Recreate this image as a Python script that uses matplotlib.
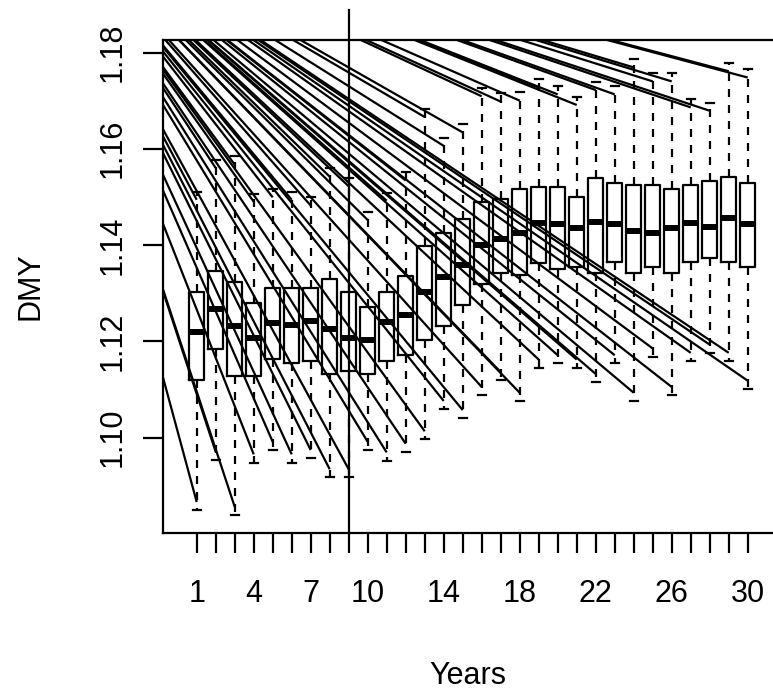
import numpy as np
import matplotlib.pyplot as plt

plt.rcParams['font.family'] = ['Liberation Sans', 'DejaVu Sans']

years = np.arange(1, 31)
shown_labels = [1, 4, 7, 10, 14, 18, 22, 26, 30]

# box statistics per year
q1 = [1.1119, 1.1184, 1.1128, 1.1128, 1.1163, 1.1154, 1.1158, 1.1132, 1.1138, 1.1132,
      1.1159, 1.1171, 1.1203, 1.1232, 1.1275, 1.1320, 1.1341, 1.1338, 1.1363, 1.1350,
      1.1355, 1.1342, 1.1364, 1.1341, 1.1355, 1.1341, 1.1364, 1.1372, 1.1364, 1.1355]
med = [1.1220, 1.1267, 1.1232, 1.1207, 1.1238, 1.1234, 1.1242, 1.1225, 1.1206, 1.1203,
       1.1241, 1.1255, 1.1303, 1.1334, 1.1358, 1.1399, 1.1412, 1.1426, 1.1446, 1.1443,
       1.1435, 1.1447, 1.1443, 1.1429, 1.1426, 1.1435, 1.1446, 1.1438, 1.1456, 1.1443]
q3 = [1.1302, 1.1346, 1.1324, 1.1280, 1.1311, 1.1311, 1.1311, 1.1329, 1.1302, 1.1272,
      1.1302, 1.1336, 1.1398, 1.1424, 1.1455, 1.1490, 1.1495, 1.1516, 1.1521, 1.1521,
      1.1499, 1.1539, 1.1529, 1.1525, 1.1525, 1.1516, 1.1525, 1.1533, 1.1541, 1.1528]
whis_lo = [1.0849, 1.0953, 1.0839, 1.0948, 1.0974, 1.0948, 1.0957, 1.0917, 1.0917, 1.0974,
           1.0952, 1.0970, 1.0996, 1.1059, 1.1040, 1.1088, 1.1119, 1.1076, 1.1145, 1.1154,
           1.1145, 1.1115, 1.1154, 1.1076, 1.1168, 1.1088, 1.1159, 1.1176, 1.1159, 1.1101]
whis_hi = [1.1511, 1.1577, 1.1584, 1.1507, 1.1516, 1.1511, 1.1499, 1.1559, 1.1539, 1.1469,
           1.1509, 1.1551, 1.1683, 1.1623, 1.1651, 1.1726, 1.1715, 1.1717, 1.1744, 1.1730,
           1.1708, 1.1739, 1.1730, 1.1786, 1.1757, 1.1757, 1.1703, 1.1696, 1.1778, 1.1765]

# the fan of straight lines all comes from one point up-left, outside the plot
fan_origin = (-7.77, 1.2146)
fan_gap = 0.0017
marker_year = 9

fig = plt.figure(figsize=(7.73, 6.93), dpi=100)
ax = fig.add_axes([163 / 773, 160 / 693, 610 / 773, 493 / 693])

stats = []
for i in range(len(years)):
    stats.append(dict(med=med[i], q1=q1[i], q3=q3[i],
                      whislo=whis_lo[i], whishi=whis_hi[i], fliers=[]))

lw = 1.6
ax.bxp(stats, positions=years, widths=0.8, capwidths=0.4, showfliers=False,
       boxprops=dict(color="black", lw=lw),
       whiskerprops=dict(color="black", lw=lw, linestyle=(0, (3.6, 3.6))),
       capprops=dict(color="black", lw=lw),
       medianprops=dict(color="black", lw=4.3, solid_capstyle="butt"))

for i, yr in enumerate(years):
    for yend in (whis_hi[i] - fan_gap, whis_lo[i] + fan_gap):
        ax.plot([fan_origin[0], yr], [fan_origin[1], yend], color="black", lw=lw,
                solid_capstyle="butt")

ax.plot([marker_year, marker_year], [1.08016, 1.1888], color="black", lw=lw,
        clip_on=False)

ax.set_xlim(-0.774, 31.33)
ax.set_ylim(1.08016, 1.1826)

ax.set_xticks(years)
ax.set_xticklabels([str(y) if y in shown_labels else "" for y in years])
ax.set_yticks([1.10, 1.12, 1.14, 1.16, 1.18])
ax.set_yticklabels(["1.10", "1.12", "1.14", "1.16", "1.18"], rotation=90, va="center")

ax.tick_params(axis="both", length=14.4, width=lw, labelsize=22, direction="out")
ax.tick_params(axis="x", pad=19)
ax.tick_params(axis="y", pad=11)

for side in ["left", "top", "bottom"]:
    ax.spines[side].set_linewidth(lw)
ax.spines["right"].set_visible(False)

ax.set_xlabel("Years", fontsize=22)
ax.set_ylabel("DMY", fontsize=22)
ax.xaxis.set_label_coords(0.5, -0.29)
ax.yaxis.set_label_coords(-0.218, 0.5)
ax.xaxis.label.set_va("center")
ax.yaxis.label.set_va("center")

fig.savefig("out.png", dpi=100)
